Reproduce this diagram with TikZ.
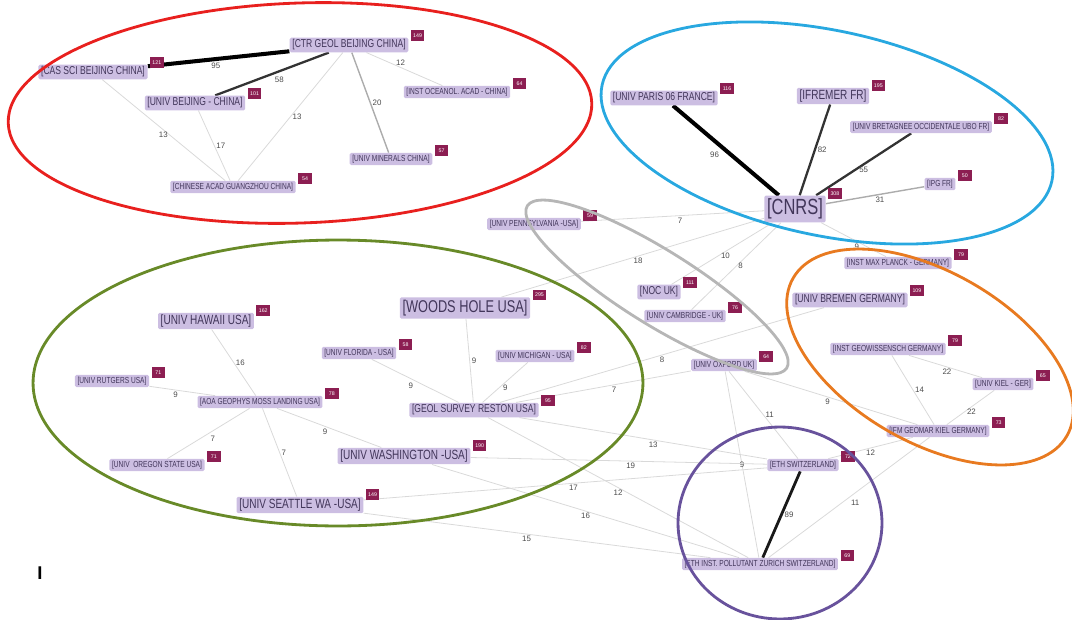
\documentclass[tikz,border=0pt]{standalone}
\usepackage{fontspec}
\setmainfont{Liberation Sans}
\newfontfamily\nlbl{Liberation Sans}[FakeStretch=0.75]
\usepackage{tikz}
\usetikzlibrary{positioning,backgrounds,calc}
\definecolor{lav}{RGB}{204,190,226}
\definecolor{lavtxt}{RGB}{66,54,90}
\definecolor{bdg}{RGB}{140,30,82}
\definecolor{cred}{RGB}{232,32,30}
\definecolor{cblue}{RGB}{40,168,224}
\definecolor{cgrey}{RGB}{182,182,182}
\definecolor{cgreen}{RGB}{104,138,40}
\definecolor{corange}{RGB}{232,122,32}
\definecolor{cpurple}{RGB}{104,82,156}

\begin{document}
\begin{tikzpicture}[x=0.02cm,y=0.02cm,
  inst/.style={fill=lav,text=lavtxt,rounded corners=0.8pt,inner xsep=1.5pt,inner ysep=1.1pt},
  tn/.style={inst,font=\nlbl\fontsize{5}{6}\selectfont},
  md/.style={inst,font=\nlbl\fontsize{6.5}{7.5}\selectfont},
  bg/.style={inst,font=\nlbl\fontsize{7.6}{9}\selectfont},
  hg/.style={inst,font=\nlbl\fontsize{9.7}{11}\selectfont,inner ysep=1.5pt},
  cn/.style={inst,font=\nlbl\fontsize{12.5}{14}\selectfont,inner ysep=1.8pt},
  badge/.style={fill=bdg,text=white,font=\fontsize{3}{3}\selectfont,inner sep=0.6pt,minimum width=0.27cm,minimum height=0.21cm},
  el/.style={font=\fontsize{4.5}{5}\selectfont,text=black!70,inner sep=1pt},
  w0/.style={gray!30,line width=0.45pt},
  w1/.style={gray!65,line width=0.8pt},
  w2/.style={black!80,line width=1.3pt},
  w3/.style={black!90,line width=1.6pt},
  w4/.style={black,line width=2.3pt},
  grp/.style={line width=1.6pt}]
  \useasboundingbox (0,0) rectangle (1072,-619);
  % China
  \node[md] (ctr) at (349,-45) {[CTR GEOL BEIJING CHINA]};
  \node[md] (cas) at (93,-72) {[CAS SCI BEIJING CHINA]};
  \node[md] (ubj) at (195,-103) {[UNIV BEIJING - CHINA]};
  \node[tn] (ocean) at (457,-92) {[INST OCEANOL. ACAD - CHINA]};
  \node[tn] (minr) at (391,-159) {[UNIV MINERALS CHINA]};
  \node[tn] (gz) at (233,-187) {[CHINESE ACAD GUANGZHOU CHINA]};
  % France
  \node[md] (paris) at (664,-98) {[UNIV PARIS 06 FRANCE]};
  \node[bg] (ifremer) at (833,-96) {[IFREMER FR]};
  \node[tn] (ubo) at (921,-127) {[UNIV BRETAGNEE OCCIDENTALE UBO FR]};
  \node[tn] (ipg) at (940,-184) {[IPG FR]};
  \node[cn] (cnrs) at (795,-209) {[CNRS]};
  % UK
  \node[tn] (penn) at (534,-224) {[UNIV PENNSYLVANIA -USA]};
  \node[md] (noc) at (659,-292) {[NOC UK]};
  \node[tn] (camb) at (685,-316) {[UNIV CAMBRIDGE - UK]};
  \node[tn] (oxf) at (724,-365) {[UNIV OXFORD UK]};
  % Germany
  \node[tn] (mpi) at (898,-263) {[INST MAX PLANCK - GERMANY]};
  \node[md] (brem) at (850,-300) {[UNIV BREMEN GERMANY]};
  \node[tn] (geow) at (888,-349) {[INST GEOWISSENSCH GERMANY]};
  \node[tn] (kiel) at (1003,-384) {[UNIV KIEL - GER]};
  \node[tn] (ifm) at (938,-431) {[IFM GEOMAR KIEL GERMANY]};
  % Switzerland
  \node[tn] (eth) at (803,-465) {[ETH SWITZERLAND]};
  \node[tn] (pol) at (760,-564) {[ETH INST. POLLUTANT ZURICH SWITZERLAND]};
  % USA
  \node[bg] (hawaii) at (206,-321) {[UNIV HAWAII USA]};
  \node[hg] (woods) at (465,-308) {[WOODS HOLE USA]};
  \node[tn] (rutg) at (112,-381) {[UNIV RUTGERS USA]};
  \node[tn] (flor) at (359,-353) {[UNIV FLORIDA - USA]};
  \node[tn] (mich) at (535,-356) {[UNIV MICHIGAN - USA]};
  \node[tn] (moss) at (260,-402) {[AOA GEOPHYS MOSS LANDING USA]};
  \node[md] (geol) at (474,-410) {[GEOL SURVEY RESTON USA]};
  \node[tn] (oreg) at (157,-465) {[UNIV\ \ OREGON STATE USA]};
  \node[bg] (wash) at (404,-456) {[UNIV WASHINGTON -USA]};
  \node[bg] (seat) at (300,-505) {[UNIV SEATTLE WA -USA]};
  \node[font=\bfseries\fontsize{10.5}{10.5}\selectfont] (mk) at (40,-573) {I};

  \foreach \n/\v in {ctr/149,cas/121,ubj/101,ocean/64,minr/57,gz/54,paris/116,ifremer/195,ubo/82,ipg/50,cnrs/308,
    penn/59,noc/111,camb/76,oxf/64,mpi/79,brem/109,geow/79,kiel/65,ifm/73,eth/72,pol/69,
    hawaii/162,woods/295,rutg/71,flor/58,mich/82,moss/78,geol/95,oreg/71,wash/190,seat/149}
    \node[badge] (\n-b) at ([shift={(9,2)}]\n.north east) {\v};

  \begin{scope}[on background layer]
    \draw[w4] (ctr) -- node[el,pos=.52,below]{95} (cas);
    \draw[w2] (ctr) -- node[el,pos=.5,below right]{58} (ubj);
    \draw[w0] (ctr) -- node[el,pos=.5,right]{13} (gz);
    \draw[w1] (ctr) -- node[el,pos=.5,right]{20} (minr);
    \draw[w0] (ctr) -- node[el,pos=.45,above]{12} (ocean);
    \draw[w0] (cas) -- node[el,pos=.55,left]{13} (gz);
    \draw[w0] (ubj) -- node[el,pos=.5,right]{17} (gz);
    \draw[w4] (paris) -- node[el,pos=.47,below left]{96} (cnrs);
    \draw[w2] (ifremer) -- node[el,pos=.5,right]{82} (cnrs);
    \draw[w2] (ubo) -- node[el,pos=.5,below]{55} (cnrs);
    \draw[w1] (ipg) -- node[el,pos=.45,below]{31} (cnrs);
    \draw[w0] (cnrs) -- node[el,pos=.46,below]{7} (penn);
    \draw[w0] (cnrs) -- node[el,pos=.55,below]{9} (mpi);
    \draw[w0] (cnrs) -- node[el,pos=.48,below]{18} (woods);
    \draw[w0] (cnrs) -- node[el,pos=.53,right]{10} (noc);
    \draw[w0] (cnrs) -- node[el,pos=.5,right]{8} (camb);
    \draw[w0] (geow) -- node[el,pos=.52,below]{22} (kiel);
    \draw[w0] (geow) -- node[el,pos=.5,right]{14} (ifm);
    \draw[w0] (kiel) -- node[el,pos=.48,below]{22} (ifm);
    \draw[w0] (ifm) -- node[el,pos=.5,below]{12} (eth);
    \draw[w0] (ifm) -- node[el,pos=.5,below right]{11} (pol);
    \draw[w3] (eth) -- node[el,pos=.5,right]{89} (pol);
    \draw[w0] (oxf) -- node[el,pos=.5,right]{11} (eth);
    \draw[w0] (oxf) -- node[el,pos=.5]{9} (pol);
    \draw[w0] (oxf) -- node[el,pos=.48,below]{9} (ifm);
    \draw[w0] (geol) -- node[el,pos=.5,below]{8} (brem);
    \draw[w0] (geol) -- node[el,pos=.56,below]{7} (oxf);
    \draw[w0] (geol) -- node[el,pos=.54,below]{13} (eth);
    \draw[w0] (wash) -- node[el,pos=.54,below]{19} (eth);
    \draw[w0] (seat) -- node[el,pos=.52,below]{17} (eth);
    \draw[w0] (geol) -- node[el,pos=.5,below]{12} (pol);
    \draw[w0] (wash) -- node[el,pos=.5,below]{16} (pol);
    \draw[w0] (seat) -- node[el,pos=.47,below]{15} (pol);
    \draw[w0] (woods) -- node[el,pos=.5,right]{9} (geol);
    \draw[w0] (flor) -- node[el,pos=.5,below left]{9} (geol);
    \draw[w0] (mich) -- node[el,pos=.5,below]{9} (geol);
    \draw[w0] (hawaii) -- node[el,pos=.5,right]{16} (moss);
    \draw[w0] (moss) -- node[el,pos=.5,right]{7} (seat);
    \draw[w0] (rutg) -- node[el,pos=.4,below]{9} (moss);
    \draw[w0] (moss) -- node[el,pos=.5,below right]{7} (oreg);
    \draw[w0] (moss) -- node[el,pos=.46,below]{9} (wash);
  \end{scope}

  % groups
  \draw[grp,cred,rotate around={2:(300,-113)}] (300,-113) ellipse [x radius=5.84cm,y radius=2.2cm];
  \draw[grp,cblue,rotate around={-12:(827,-133)}] (827,-133) ellipse [x radius=4.6cm,y radius=2.05cm];
  \draw[grp,cgrey,rotate around={-32:(657,-287)}] (657,-287) ellipse [x radius=3.06cm,y radius=0.74cm];
  \draw[grp,cgreen] (338,-383) ellipse [x radius=6.1cm,y radius=2.86cm];
  \draw[grp,corange,rotate around={-30:(930,-357)}] (930,-357) ellipse [x radius=3.16cm,y radius=1.7cm];
  \draw[grp,cpurple] (780,-523) ellipse [x radius=2.04cm,y radius=1.92cm];
\end{tikzpicture}
\end{document}
